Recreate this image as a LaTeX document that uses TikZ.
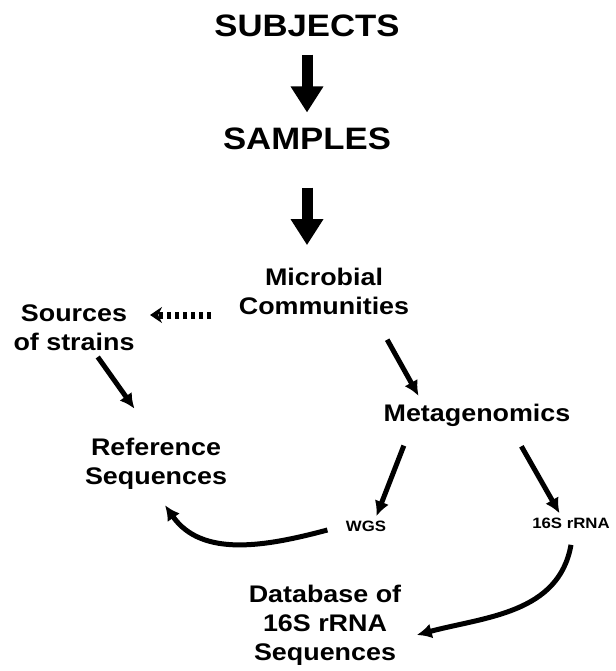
\documentclass[tikz,border=0pt]{standalone}
\usepackage{fontspec}
\setmainfont{Liberation Sans}[FakeStretch=1.12]
\usetikzlibrary{arrows.meta}

\begin{document}
\begin{tikzpicture}[
                    x=1pt, y=-1pt,
                    font=\bfseries,
                    big/.style={font=\fontsize{31}{36}\selectfont\bfseries},
                    mid/.style={font=\fontsize{24}{29}\selectfont\bfseries, align=center},
                    small/.style={font=\fontsize{15}{18}\selectfont\bfseries},
                    fat/.style={line width=11pt, -{Triangle[width=31pt,length=26pt]}},
                    thin/.style={line width=5pt, -{Latex[width=15pt,length=15pt]}},
                    dots/.style={line width=7pt, dash pattern=on 4pt off 4pt, -{Stealth[width=16pt,length=12pt]}}
                ]
                \useasboundingbox (0,0) rectangle (615,671);
                \node (subj) at (307,26) [big] {SUBJECTS};
                \node (samp) at (307,139) [big] {SAMPLES};
                \node (micro) at (324,291) [mid] {Microbial\\Communities};
                \node (src) at (74,328) [mid] {Sources\\of strains};
                \node (meta) at (477,415) [mid] {Metagenomics};
                \node (ref) at (156,464) [mid] {Reference\\Sequences};
                \node (wgs) at (366,526) [small] {WGS};
                \node (rrna) at (571,523) [small] {16S rRNA};
                \node (db) at (325,625) [mid] {Database of\\16S rRNA\\Sequences};

                \path
                (subj) edge[fat, shorten <=14pt, shorten >=12pt] (samp)
                (samp) edge[fat, shorten <=34pt, shorten >=19pt] (samp.south |- micro.north)
                ([xshift=-24pt,yshift=-24pt]micro.west) edge[dots] ([xshift=12pt,yshift=13pt]src.east)
                ([xshift=51pt]micro.south) edge[thin, shorten <=25pt, shorten >=5pt] ([xshift=-56pt]meta.north)
                ([xshift=22pt]src.south) edge[thin, shorten <=3pt, shorten >=32pt] ([xshift=-3pt]ref.north)
                ([xshift=-67pt]meta.south) edge[thin, shorten <=17pt, shorten >=1pt] ([xshift=10pt]wgs.north)
                ([xshift=35pt]meta.south) edge[thin, shorten <=19pt, shorten >=1pt] ([xshift=-11pt]rrna.north)
                ([xshift=-15pt,yshift=-4pt]wgs.west) edge[thin, out=195, in=-55] ([xshift=9pt,yshift=-12pt]ref.south)
                ([yshift=-13pt]rrna.south) edge[thin, out=-100, in=15] ([xshift=12pt,yshift=-10pt]db.east)
                ;
            \end{tikzpicture}
\end{document}
